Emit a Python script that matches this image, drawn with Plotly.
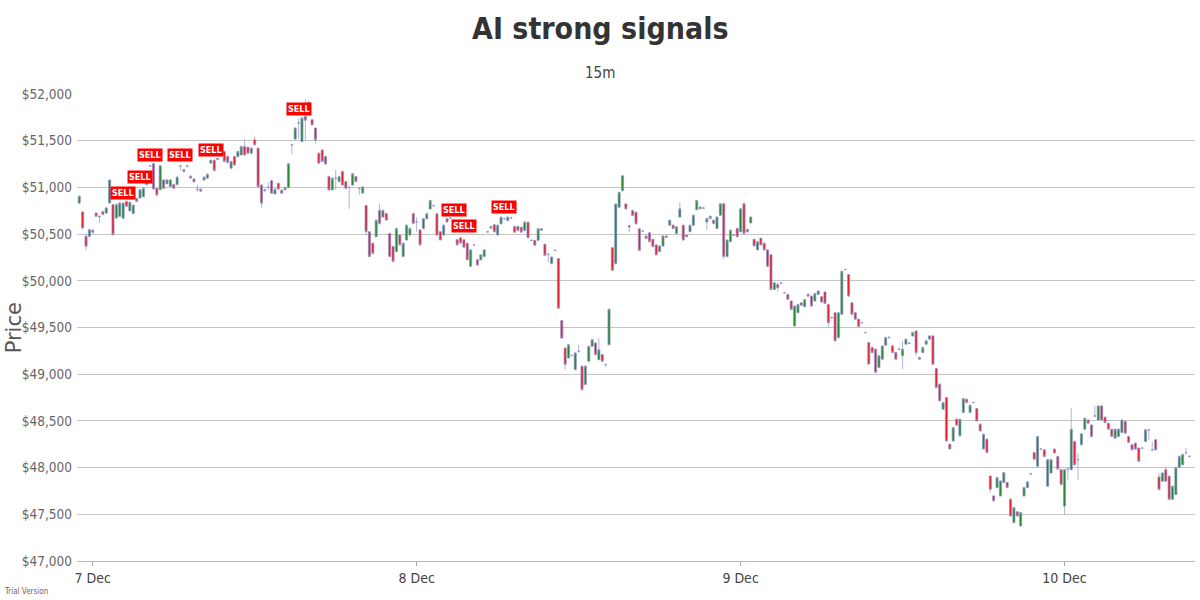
import pandas as pd
import plotly.graph_objects as go

# 15-minute candles, first candle 6 Dec 2021 23:00
start_time = "2021-12-06 23:00"

open_ = [
    50833, 50736, 50476, 50476, 50540, 50725, 50690, 50740, 50725, 50833,
    50815, 50672, 50690, 50670, 50850, 50750, 50720, 50880, 50886, 50900,
    51030, 51230, 51254, 50990, 50975, 51080, 51040, 51010, 51030, 51030,
    51230, 51190, 51230, 51120, 51090, 50980, 50980, 51080, 51100, 51260,
    51290, 51300, 51350, 51384, 51330, 51205, 51330, 51330, 51348, 51438,
    51430, 51366, 51510, 51420, 51026, 50975, 51000, 51073, 50930, 51044,
    50970, 50975, 51000, 51456, 51517, 51690, 51492, 51760, 51796, 51725,
    51635, 51366, 51400, 51330, 51116, 50973, 51098, 51062, 51170, 51062,
    51000, 51026, 51116, 50990, 50940, 50806, 50525, 50402, 50472, 50754,
    50683, 50720, 50507, 50366, 50313, 50490, 50260, 50437, 50490, 50718,
    50630, 50545, 50560, 50665, 50770, 50805, 50718, 50525, 50490, 50665,
    50670, 50620, 50440, 50460, 50440, 50402, 50155, 50385, 50225, 50225,
    50260, 50525, 50580, 50600, 50490, 50610, 50665, 50645, 50674, 50582,
    50582, 50574, 50539, 50628, 50433, 50433, 50433, 50540, 50390, 50284,
    50184, 50326, 50238, 49575, 49280, 49174, 49200, 49050, 49245, 49085,
    48890, 49138, 49298, 49334, 49156, 49210, 49103, 49316, 50355, 50184,
    50787, 50965, 50823, 50590, 50752, 50734, 50557, 50532, 50479, 50514,
    50444, 50384, 50313, 50373, 50479, 50595, 50595, 50507, 50683, 50595,
    50490, 50525, 50595, 50761, 50789, 50778, 50630, 50666, 50648, 50560,
    50701, 50824, 50260, 50419, 50490, 50560, 50525, 50824, 50549, 50620,
    50444, 50331, 50455, 50402, 50331, 50280, 49907, 49960, 49975, 49872,
    49854, 49783, 49517, 49659, 49765, 49722, 49854, 49836, 49783, 49854,
    49830, 49880, 49747, 49605, 49659, 49392, 49641, 50120, 50067, 49765,
    49659, 49588, 49552, 49446, 49340, 49287, 49268, 49073, 49161, 49311,
    49392, 49303, 49232, 49268, 49197, 49321, 49332, 49410, 49463, 49179,
    49232, 49321, 49410, 49410, 49060, 48893, 48625, 48750, 48250, 48286,
    48518, 48340, 48590, 48732, 48590, 48697, 48632, 48465, 48200, 48304,
    47910, 47697, 47786, 47697, 47840, 47840, 47661, 47411, 47526, 47376,
    47697, 47786, 47930, 48161, 48014, 48198, 48190, 47800, 47943, 48198,
    48120, 47978, 47588, 47985, 47978, 48280, 48085, 48245, 48411, 48510,
    48457, 48553, 48510, 48660, 48540, 48475, 48411, 48315, 48333, 48375,
    48493, 48333, 48245, 48262, 48209, 48209, 48280, 48404, 48190, 48298,
    47900, 47854, 47978, 47907, 47660, 47712, 48000, 48030, 48156, 48120,
]

close = [
    50904, 50565, 50370, 50547, 50520, 50690, 50685, 50710, 50780, 51080,
    50495, 50815, 50833, 50833, 50797, 50840, 50810, 50850, 50975, 50990,
    51080, 51230, 50983, 50920, 51232, 50990, 51080, 51080, 50990, 51110,
    51230, 51170, 51230, 51100, 51060, 50980, 50960, 51110, 51140, 51290,
    51180, 51310, 51350, 51277, 51266, 51277, 51240, 51384, 51438, 51348,
    51366, 51420, 51456, 51008, 50830, 50965, 51000, 50937, 50980, 50983,
    50937, 51000, 51252, 51456, 51635, 51690, 51742, 51720, 51910, 51670,
    51510, 51259, 51277, 51250, 50973, 51098, 51098, 51116, 51026, 50990,
    51000, 51145, 51062, 50990, 51005, 50525, 50260, 50296, 50648, 50613,
    50754, 50650, 50260, 50208, 50560, 50385, 50402, 50595, 50560, 50613,
    50630, 50385, 50665, 50718, 50860, 50805, 50490, 50437, 50595, 50630,
    50670, 50650, 50385, 50405, 50360, 50225, 50331, 50385, 50170, 50278,
    50331, 50525, 50565, 50525, 50595, 50680, 50665, 50681, 50674, 50521,
    50539, 50521, 50628, 50461, 50433, 50380, 50557, 50557, 50273, 50284,
    50255, 50326, 49706, 49387, 49103, 49316, 49200, 49227, 49245, 48837,
    49085, 49298, 49369, 49210, 49263, 49138, 49103, 49695, 50113, 50822,
    50947, 51124, 50770, 50575, 50699, 50610, 50326, 50532, 50454, 50419,
    50366, 50278, 50373, 50479, 50466, 50648, 50560, 50578, 50771, 50437,
    50472, 50595, 50701, 50859, 50771, 50778, 50666, 50690, 50613, 50683,
    50824, 50260, 50437, 50542, 50490, 50472, 50771, 50507, 50525, 50683,
    50373, 50419, 50384, 50331, 50155, 49907, 49978, 49925, 49975, 49872,
    49800, 49694, 49730, 49747, 49737, 49800, 49836, 49730, 49864, 49890,
    49773, 49758, 49552, 49605, 49357, 49659, 50102, 50120, 49836, 49641,
    49588, 49510, 49552, 49446, 49108, 49232, 49020, 49197, 49303, 49392,
    49392, 49232, 49161, 49268, 49268, 49375, 49332, 49446, 49232, 49161,
    49286, 49357, 49375, 49107, 48857, 48715, 48697, 48286, 48200, 48429,
    48454, 48518, 48740, 48697, 48668, 48697, 48500, 48393, 48357, 48161,
    47768, 47644, 47893, 47857, 47947, 47786, 47483, 47572, 47483, 47518,
    47786, 47847, 47930, 48090, 48333, 48198, 48120, 48085, 48085, 48156,
    47985, 47818, 47978, 47985, 48411, 48030, 48085, 48362, 48528, 48475,
    48333, 48553, 48660, 48510, 48482, 48411, 48333, 48411, 48411, 48510,
    48369, 48270, 48190, 48198, 48067, 48209, 48404, 48404, 48190, 48190,
    47765, 47943, 47854, 47660, 47800, 48000, 48120, 48140, 48156, 48120,
]

high = [
    50920, 50750, 50510, 50560, 50560, 50735, 50700, 50750, 50790, 51085,
    50825, 50830, 50845, 50840, 50860, 50850, 50820, 50890, 50985, 51000,
    51090, 51240, 51260, 50995, 51240, 51090, 51090, 51090, 51040, 51120,
    51240, 51200, 51240, 51130, 51100, 51030, 50990, 51120, 51150, 51300,
    51300, 51320, 51400, 51395, 51340, 51285, 51340, 51395, 51450, 51520,
    51440, 51430, 51545, 51430, 51035, 50985, 51060, 51080, 50990, 51050,
    50980, 51010, 51260, 51470, 51645, 51740, 51760, 51940, 51930, 51735,
    51645, 51375, 51410, 51340, 51125, 51105, 51190, 51125, 51180, 51070,
    51010, 51155, 51125, 51000, 51015, 50810, 50530, 50410, 50660, 50825,
    50765, 50730, 50515, 50375, 50570, 50500, 50410, 50605, 50570, 50730,
    50680, 50555, 50675, 50730, 50870, 50815, 50725, 50535, 50605, 50675,
    50680, 50660, 50450, 50470, 50450, 50410, 50340, 50395, 50235, 50285,
    50340, 50535, 50590, 50610, 50605, 50690, 50675, 50690, 50684, 50590,
    50590, 50580, 50640, 50635, 50443, 50440, 50565, 50565, 50398, 50294,
    50262, 50336, 50245, 49580, 49290, 49325, 49210, 49235, 49316, 49092,
    49095, 49305, 49378, 49340, 49387, 49218, 49113, 49705, 50360, 50830,
    50955, 51135, 50830, 50600, 50760, 50742, 50565, 50542, 50487, 50522,
    50452, 50392, 50381, 50487, 50487, 50656, 50603, 50586, 50842, 50603,
    50498, 50603, 50709, 50867, 50797, 50788, 50674, 50698, 50656, 50691,
    50832, 50832, 50445, 50550, 50500, 50568, 50779, 50832, 50557, 50691,
    50452, 50427, 50463, 50410, 50339, 50288, 49986, 49990, 49985, 49882,
    49862, 49791, 49738, 49755, 49773, 49808, 49872, 49844, 49872, 49898,
    49838, 49888, 49755, 49615, 49667, 49667, 50110, 50130, 50075, 49773,
    49667, 49596, 49562, 49456, 49348, 49295, 49276, 49205, 49311, 49400,
    49410, 49311, 49240, 49278, 49357, 49383, 49342, 49454, 49471, 49187,
    49294, 49365, 49418, 49418, 49068, 48901, 48705, 48758, 48258, 48437,
    48526, 48526, 48748, 48740, 48676, 48707, 48640, 48473, 48365, 48312,
    47918, 47705, 47901, 47865, 47955, 47848, 47669, 47580, 47534, 47526,
    47794, 47855, 47950, 48169, 48341, 48208, 48198, 48093, 48093, 48206,
    48128, 47986, 47986, 47995, 48635, 48288, 48156, 48370, 48536, 48518,
    48465, 48660, 48668, 48668, 48548, 48483, 48419, 48419, 48419, 48518,
    48501, 48341, 48253, 48270, 48217, 48219, 48412, 48414, 48280, 48306,
    47940, 47951, 48010, 47915, 47808, 48008, 48128, 48148, 48210, 48130,
]

low = [
    50820, 50550, 50330, 50460, 50500, 50680, 50620, 50700, 50715, 50825,
    50480, 50660, 50680, 50660, 50790, 50740, 50710, 50845, 50880, 50895,
    51020, 51220, 50975, 50900, 50970, 50980, 51030, 51000, 50980, 51020,
    51180, 51160, 51210, 51090, 51050, 50950, 50950, 51070, 51090, 51250,
    51170, 51290, 51340, 51270, 51255, 51195, 51230, 51320, 51340, 51340,
    51355, 51360, 51450, 50995, 50780, 50955, 50970, 50930, 50925, 50975,
    50930, 50970, 50990, 51360, 51510, 51520, 51480, 51500, 51790, 51660,
    51470, 51250, 51270, 51240, 50965, 50965, 50970, 51055, 51020, 50980,
    50770, 51020, 51055, 50920, 50930, 50490, 50250, 50280, 50465, 50600,
    50675, 50640, 50250, 50200, 50305, 50375, 50250, 50430, 50480, 50605,
    50525, 50375, 50550, 50655, 50760, 50795, 50480, 50430, 50480, 50620,
    50660, 50610, 50375, 50395, 50350, 50215, 50145, 50375, 50160, 50215,
    50250, 50515, 50555, 50515, 50480, 50600, 50655, 50640, 50664, 50515,
    50530, 50515, 50530, 50455, 50423, 50372, 50425, 50532, 50265, 50200,
    50176, 50316, 49700, 49380, 49050, 49165, 49190, 49040, 49230, 48820,
    48882, 49130, 49290, 49200, 49148, 49130, 49080, 49308, 50105, 50176,
    50779, 50957, 50763, 50520, 50691, 50602, 50318, 50522, 50446, 50411,
    50358, 50270, 50305, 50365, 50458, 50587, 50552, 50499, 50675, 50429,
    50464, 50517, 50587, 50753, 50763, 50768, 50546, 50658, 50605, 50552,
    50693, 50230, 50252, 50411, 50480, 50464, 50517, 50499, 50517, 50612,
    50365, 50323, 50376, 50323, 50147, 49899, 49899, 49880, 49965, 49862,
    49792, 49686, 49509, 49651, 49729, 49714, 49818, 49722, 49775, 49846,
    49765, 49750, 49500, 49595, 49349, 49384, 49633, 50110, 49828, 49633,
    49580, 49502, 49542, 49436, 49100, 49224, 49012, 49065, 49153, 49303,
    49382, 49224, 49153, 49258, 49055, 49313, 49322, 49402, 49197, 49153,
    49224, 49313, 49367, 49099, 48849, 48707, 48617, 48278, 48192, 48278,
    48446, 48332, 48582, 48689, 48582, 48687, 48492, 48385, 48192, 48153,
    47732, 47636, 47778, 47689, 47832, 47778, 47475, 47403, 47475, 47368,
    47689, 47778, 47920, 48082, 48006, 48188, 48112, 47792, 47935, 48148,
    47977, 47810, 47500, 47870, 47970, 48022, 47870, 48237, 48403, 48467,
    48325, 48543, 48502, 48502, 48474, 48403, 48325, 48307, 48325, 48367,
    48361, 48262, 48182, 48190, 48059, 48199, 48272, 48298, 48180, 48182,
    47757, 47846, 47846, 47652, 47652, 47704, 47992, 48022, 48146, 48110,
]

# AI "SELL" signals
sell_times = [
    "2021-12-07 02:15", "2021-12-07 03:30", "2021-12-07 04:15",
    "2021-12-07 06:30", "2021-12-07 08:45", "2021-12-07 15:15",
    "2021-12-08 02:45", "2021-12-08 03:30", "2021-12-08 06:30",
]
sell_prices = [50940, 51111, 51347, 51347, 51400, 51839, 50758, 50587, 50790]

y_ticks = [47000, 47500, 48000, 48500, 49000, 49500, 50000, 50500, 51000, 51500, 52000]
y_tick_labels = ["$47,000", "$47,500", "$48,000", "$48,500", "$49,000", "$49,500",
                 "$50,000", "$50,500", "$51,000", "$51,500", "$52,000"]

times = pd.date_range(start_time, periods=len(close), freq="15min")

FONT = "DejaVu Sans Condensed, Liberation Sans Narrow, sans-serif"

fig = go.Figure()
fig.add_trace(go.Candlestick(
    x=times, open=open_, high=high, low=low, close=close,
    increasing=dict(fillcolor="#25892f", line=dict(color="#8f93cc", width=0.7)),
    decreasing=dict(fillcolor="#ee1c25", line=dict(color="#8f93cc", width=0.7)),
    showlegend=False,
))

for t, p in zip(sell_times, sell_prices):
    fig.add_annotation(
        x=t, y=p, xref="x", yref="y", text="<b>SELL</b>", showarrow=False,
        font=dict(family=FONT, size=9, color="white"),
        bgcolor="#ff0000", borderpad=1,
    )

fig.add_annotation(text="<b>AI strong signals</b>", xref="paper", yref="paper",
                   x=0.468, y=1.141, showarrow=False, xanchor="center", yanchor="middle",
                   font=dict(family=FONT, size=30, color="#333333"))
fig.add_annotation(text="15m", xref="paper", yref="paper",
                   x=0.468, y=1.045, showarrow=False, xanchor="center", yanchor="middle",
                   font=dict(family=FONT, size=15, color="#444444"))
fig.add_annotation(text="Price", xref="paper", yref="paper", textangle=-90,
                   x=-0.056, y=0.499, showarrow=False, xanchor="center", yanchor="middle",
                   font=dict(family="DejaVu Sans", size=21, color="#555555"))
fig.add_annotation(text="Trial Version", xref="paper", yref="paper",
                   x=-0.067, y=-0.065, showarrow=False, xanchor="left", yanchor="middle",
                   font=dict(family=FONT, size=8, color="#666666"))

fig.update_layout(
    width=1200, height=600,
    margin=dict(l=77, r=5, t=94, b=39),
    paper_bgcolor="white", plot_bgcolor="white",
    boxgap=0.1,
    xaxis=dict(
        type="date", range=["2021-12-06 22:50", "2021-12-10 09:40"],
        rangeslider=dict(visible=False),
        tickmode="linear", tick0="2021-12-07", dtick=86400000,
        tickformat="%-d %b", showgrid=False,
        ticks="outside", ticklen=4, tickcolor="#aaaaaa",
        showline=True, linecolor="#bbbbbb", linewidth=1,
        tickfont=dict(family=FONT, size=14, color="#444444"),
    ),
    yaxis=dict(
        range=[47000, 52000], tickmode="array", tickvals=y_ticks,
        ticktext=y_tick_labels,
        showgrid=True, gridcolor="#c4c4c4", gridwidth=1, zeroline=False,
        tickfont=dict(family=FONT, size=13.5, color="#666666"),
        ticklabelstandoff=4,
    ),
)

fig.write_html("out.html")
